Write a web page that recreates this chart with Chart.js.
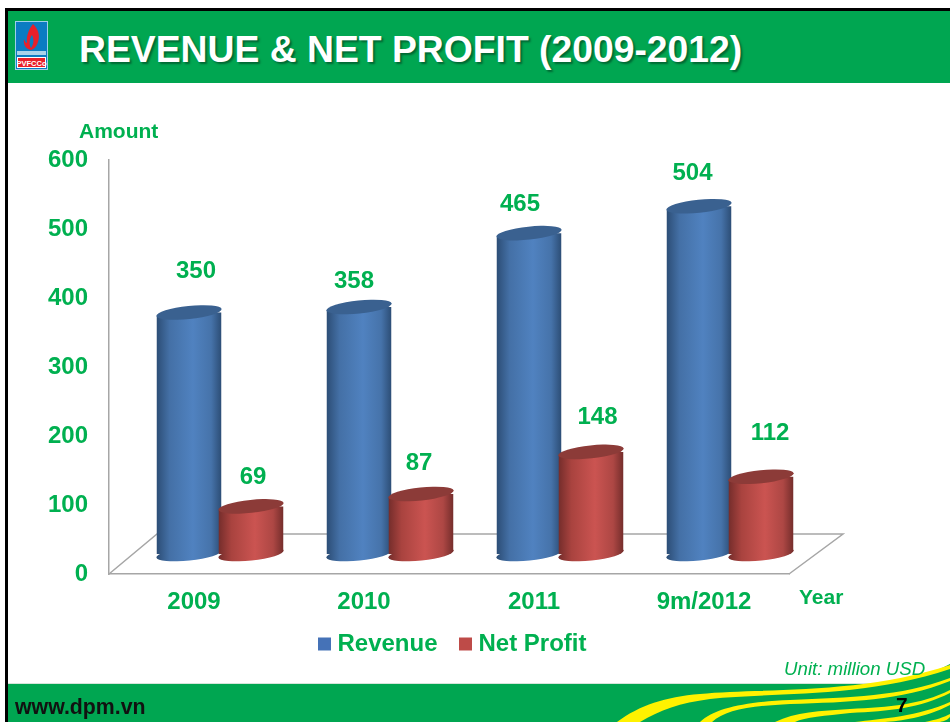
<!DOCTYPE html>
<html>
<head>
<meta charset="utf-8">
<title>Revenue & Net Profit (2009-2012)</title>
<script src="https://cdn.jsdelivr.net/npm/chart.js@4"></script>
<style>
  html, body { margin: 0; padding: 0; background: #fff; width: 950px; height: 722px; overflow: hidden; }
  body { position: relative; font-family: "Liberation Sans", Arial, sans-serif; }
  #frameTop { position: absolute; left: 5px; top: 8px; width: 945px; height: 3px; background: #000; }
  #frameLeft { position: absolute; left: 5px; top: 8px; width: 2.5px; height: 714px; background: #000; z-index: 5; }
  #header { position: absolute; left: 7px; top: 11px; width: 943px; height: 72px; background: #00A651; }
  #title { position: absolute; left: 79px; top: 27px; font-size: 37.3px; line-height: 44px; font-weight: bold; color: #fff; white-space: nowrap;
           text-shadow: 2px 2px 2px rgba(0,70,35,.65); }
  #logo { position: absolute; left: 15px; top: 21px; }
  #footer { position: absolute; left: 0; top: 640px; }
  #site { position: absolute; left: 15px; top: 695px; font-size: 21.3px; line-height: 24px; font-weight: bold; color: #111; }
  #page { position: absolute; left: 896px; top: 693px; font-size: 21px; line-height: 24px; font-weight: bold; color: #000; }
  #unit { position: absolute; left: 784px; top: 658px; font-size: 18.7px; line-height: 22px; font-style: italic; color: #00B050; white-space: nowrap; }
  canvas { position: absolute; left: 0; top: 0; }
</style>
</head>
<body>
<svg id="footer" width="950" height="82" viewBox="0 640 950 82">
  <rect x="7" y="684" width="943" height="38" fill="#00A651"/>
  <rect x="7" y="683" width="873" height="1" fill="#d5e5da"/>
  <path d="M880 684 C900 682 930 675 950 664 L950 684 Z" fill="#00A651"/>
  <g fill="#FFF200">
    <path d="M617 722 C640 705 665 697 700 694 C760 688 860 695 950 665 L950 669 C860 699 770 692 710 699 C680 703 660 710 640 722 Z"/>
    <path d="M700 722 C715 708 745 702 790 700 C850 697 900 697 950 678 L950 681 C900 701 850 702 790 704 C750 706 725 710 712 722 Z"/>
    <path d="M775 722 C795 712 820 711 850 709 C890 707 920 705 950 690 L950 693 C920 708 890 711 850 713 C825 716 805 717 795 722 Z"/>
    <path d="M855 722 C880 719 920 716 950 702 L950 705 C925 718 900 721 885 722 Z"/>
    <path d="M925 722 C935 720 945 717 950 714 L950 717 C947 720 945 721 940 722 Z"/>
  </g>
</svg>
<div id="frameTop"></div>
<div id="frameLeft"></div>
<div id="header"></div>
<svg id="logo" width="33" height="49" viewBox="0 0 33 49">
  <rect x="0.5" y="0.5" width="32" height="48" fill="#0b7cc2" stroke="#9fd0e8"/>
  <path d="M18 3 C24 9 25 15 23 21 C22 25 19 28 16 29 C11 28 8 24 9 18 C10 21 11 22 12 22 C11 15 14 8 18 3 Z" fill="#e8202a"/>
  <path d="M17 14 C19 18 19 23 16 27 C14 24 14 18 17 14 Z" fill="#0b7cc2"/>
  <rect x="2" y="30" width="29" height="4" fill="#a9d3ea"/>
  <rect x="2" y="36" width="29" height="11" fill="#fff"/>
  <rect x="3" y="37" width="27" height="9" fill="#e8202a"/>
  <text x="16.5" y="44.5" text-anchor="middle" font-family="Liberation Sans" font-weight="bold" font-size="7.5" fill="#fff">PVFCCo</text>
</svg>
<div id="title">REVENUE &amp; NET PROFIT (2009-2012)</div>
<canvas id="chart" width="950" height="722"></canvas>
<div id="unit">Unit: million USD</div>
<div id="site">www.dpm.vn</div>
<div id="page">7</div>
<script>
const categories = ["2009", "2010", "2011", "9m/2012"];
const revenue = [350, 358, 465, 504];
const netProfit = [69, 87, 148, 112];
const yTicks = [0, 100, 200, 300, 400, 500, 600];

const GREEN = "#00B050";
const FONT = "Liberation Sans";
const LINE = "#a6a6a6";
const depth = { x: 26, y: -20 };
const floor = { dx: 54, dy: -40, backLeft: 48 };
const shades = [
  { stops: ["#2c4d75", "#4470a6", "#5082c0", "#4673aa", "#2c4d75"], cap: "#3a6190", solid: "#4572B7" },
  { stops: ["#742d2b", "#a9433f", "#cb5451", "#ad4744", "#742d2b"], cap: "#8c3b38", solid: "#BE4B48" }
];
/* placement of each data label relative to its bar top (layout only) */
const labelNudge = [
  [[7, -41], [-5, -26], [-9, -29], [-6.5, -33]],
  [[2, -29], [-2, -31], [6.5, -35], [9, -43]]
];

function sideGradient(ctx, x0, x1, stops) {
  const g = ctx.createLinearGradient(x0, 0, x1, 0);
  [0, 0.2, 0.56, 0.84, 1].forEach((p, i) => g.addColorStop(p, stops[i]));
  return g;
}

const cylinderPlugin = {
  id: "cylinders",
  afterLayout(chart) {
    const l = chart.legend;
    l.left += 6; l.right += 6;
    l.top -= 17; l.bottom -= 17;
  },
  beforeDatasetsDraw(chart) {
    const ctx = chart.ctx, a = chart.chartArea;
    ctx.save();
    ctx.strokeStyle = LINE;
    ctx.lineWidth = 1.5;
    ctx.beginPath();
    ctx.moveTo(a.left, a.bottom);
    ctx.lineTo(a.left + floor.backLeft, a.bottom + floor.dy);
    ctx.lineTo(a.right + floor.dx, a.bottom + floor.dy);
    ctx.lineTo(a.right, a.bottom);
    ctx.stroke();
    ctx.restore();

    const ry = 6.5, rot = -6 * Math.PI / 180;
    [0, 1].forEach(d => {
      const s = shades[d];
      chart.getDatasetMeta(d).data.forEach(el => {
        const cx = el.x + depth.x, top = el.y + depth.y, base = el.base + depth.y;
        const rx = el.width / 2 + 0.3, hw = el.width / 2, tilt = 3.3;

        ctx.save();
        ctx.beginPath();
        ctx.ellipse(cx, base, rx, ry, rot, 0, Math.PI * 2);
        ctx.fillStyle = sideGradient(ctx, cx - hw, cx + hw, s.stops);
        ctx.fill();
        ctx.restore();

        ctx.save();
        ctx.beginPath();
        ctx.moveTo(cx - hw, top + tilt);
        ctx.lineTo(cx + hw, top - tilt);
        ctx.lineTo(cx + hw, base - tilt);
        ctx.lineTo(cx - hw, base + tilt);
        ctx.closePath();
        ctx.clip();
        ctx.translate(depth.x, depth.y);
        const saved = el.options;
        el.options = Object.assign({}, saved, { backgroundColor: sideGradient(ctx, el.x - hw, el.x + hw, s.stops) });
        el.draw(ctx);
        el.options = saved;
        ctx.restore();

        ctx.save();
        ctx.beginPath();
        ctx.ellipse(cx, top, rx, ry, rot, 0, Math.PI * 2);
        ctx.fillStyle = s.cap;
        ctx.fill();
        ctx.restore();
      });
    });
  },
  beforeDatasetDraw() {
    return false;
  },
  afterDatasetsDraw(chart) {
    const ctx = chart.ctx, a = chart.chartArea;
    ctx.save();
    ctx.fillStyle = GREEN;
    ctx.textBaseline = "middle";
    ctx.textAlign = "center";
    ctx.font = "bold 24px '" + FONT + "'";
    [0, 1].forEach(d => {
      chart.getDatasetMeta(d).data.forEach((el, i) => {
        const n = labelNudge[d][i];
        ctx.fillText(String(chart.data.datasets[d].data[i]), el.x + depth.x + n[0], el.y + depth.y + n[1]);
      });
    });
    ctx.font = "bold 21px '" + FONT + "'";
    ctx.textAlign = "left";
    ctx.fillText("Amount", a.left - 30, a.top - 28);
    ctx.fillText("Year", a.right + 10, a.bottom + 24);
    ctx.restore();
  }
};

new Chart(document.getElementById("chart"), {
  type: "bar",
  data: {
    labels: categories,
    datasets: [
      { label: "Revenue", data: revenue, backgroundColor: shades[0].solid, borderWidth: 0 },
      { label: "Net Profit", data: netProfit, backgroundColor: shades[1].solid, borderWidth: 0 }
    ]
  },
  plugins: [cylinderPlugin],
  options: {
    responsive: false,
    animation: false,
    events: [],
    datasets: { bar: { categoryPercentage: 124 / 170, barPercentage: 65 / 62 } },
    layout: { padding: { left: 0, top: 160, right: 161, bottom: 39 } },
    plugins: {
      title: { display: false },
      tooltip: { enabled: false },
      legend: {
        display: true,
        position: "bottom",
        fullSize: false,
        labels: {
          usePointStyle: true,
          pointStyle: "rect",
          boxWidth: 2,
          boxHeight: 13,
          padding: 27,
          color: GREEN,
          font: { family: FONT, size: 24, weight: "bold" }
        }
      }
    },
    scales: {
      x: {
        grid: { display: false, drawTicks: false },
        border: { display: true, color: LINE, width: 1.5 },
        ticks: { color: GREEN, padding: 14, maxRotation: 0, autoSkip: false, font: { family: FONT, size: 24, weight: "bold" } },
        afterFit(s) { s.height = 48; }
      },
      y: {
        min: yTicks[0],
        max: yTicks[yTicks.length - 1],
        grid: { display: false, drawTicks: false },
        border: { display: true, color: LINE, width: 1.5 },
        ticks: { stepSize: 100, color: GREEN, padding: 21, font: { family: FONT, size: 24, weight: "bold" } },
        afterFit(s) { s.width = 109; }
      }
    }
  }
});
</script>
</body>
</html>
